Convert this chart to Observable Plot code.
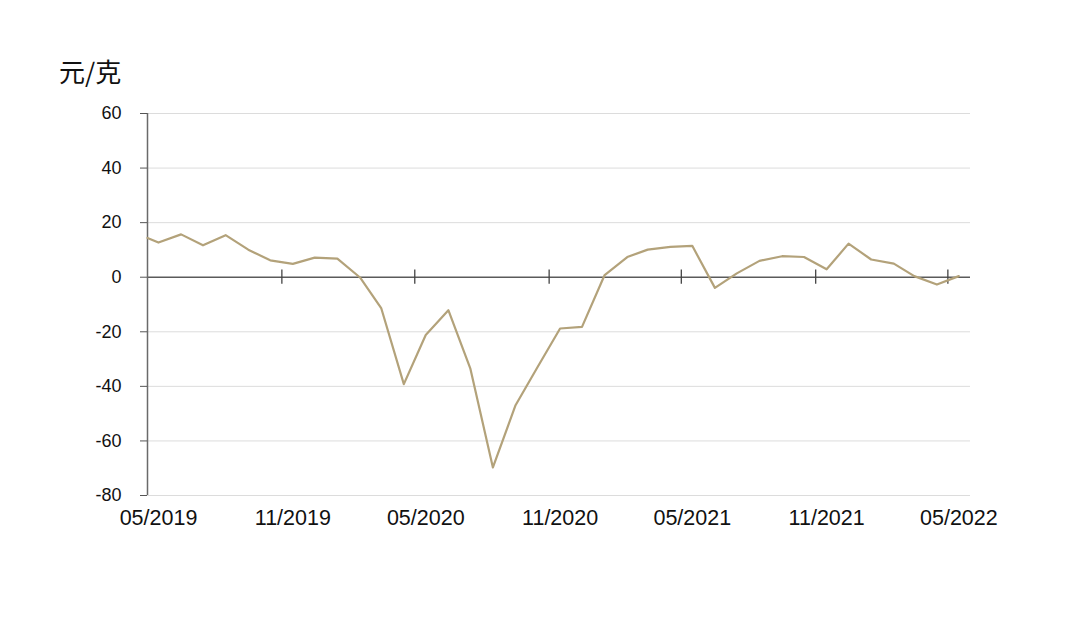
<!DOCTYPE html>
<html>
<head>
<meta charset="utf-8">
<script src="https://cdn.jsdelivr.net/npm/d3@7"></script>
<script src="https://cdn.jsdelivr.net/npm/@observablehq/plot@0.6"></script>
<style>
  html, body { margin: 0; padding: 0; background: #fff; }
  #wrap { position: relative; width: 1080px; height: 618px; }
  #title { position: absolute; left: 59px; top: 52px; font-family: "Noto Sans CJK SC", "Liberation Sans", sans-serif; font-size: 26px; color: #111; }
</style>
</head>
<body>
<div id="wrap">
  <div id="title">元/克</div>
  <div id="chart"></div>
</div>
<script>
// Data (monthly)
const dates = [
  "2019-05-01","2019-05-16","2019-06-16","2019-07-16","2019-08-16","2019-09-16","2019-10-16",
  "2019-11-16","2019-12-16","2020-01-16","2020-02-16","2020-03-16","2020-04-16","2020-05-16",
  "2020-06-16","2020-07-16","2020-08-16","2020-09-16","2020-10-16","2020-11-16","2020-12-16",
  "2021-01-16","2021-02-16","2021-03-16","2021-04-16","2021-05-16","2021-06-16","2021-07-16",
  "2021-08-16","2021-09-16","2021-10-16","2021-11-16","2021-12-16","2022-01-16","2022-02-16",
  "2022-03-16","2022-04-16","2022-05-16"
];
const values = [
  14.4, 12.7, 15.7, 11.7, 15.4, 10.1, 6.2,
  4.9, 7.2, 6.8, -0.1, -11.3, -39.2, -21.2,
  -12.1, -33.4, -69.7, -46.9, -33.0, -18.8, -18.2,
  0.8, 7.4, 10.1, 11.1, 11.5, -3.9, 1.4,
  6.0, 7.7, 7.4, 2.9, 12.3, 6.5, 5.0,
  0.4, -2.7, 0.4
];
const xTicks = ["2019-05-01","2019-11-01","2020-05-01","2020-11-01","2021-05-01","2021-11-01","2022-05-01"];
const yTicks = [60, 40, 20, 0, -20, -40, -60, -80];
const xDomain = ["2019-05-01", "2022-06-01"];
const yDomain = [-80, 60];

const parse = d3.utcParse("%Y-%m-%d");
const data = dates.map((d, i) => ({date: parse(d), value: values[i]}));
const tickDates = xTicks.map(parse);
const xd = xDomain.map(parse);
const gridTicks = yTicks.filter(v => v !== 0);

const chart = Plot.plot({
  width: 1080,
  height: 618,
  marginLeft: 147,
  marginRight: 110,
  marginTop: 113,
  marginBottom: 123,
  style: {fontFamily: "'Liberation Sans', Arial, sans-serif", color: "#111", background: "transparent"},
  x: {type: "utc", domain: xd},
  y: {domain: yDomain},
  marks: [
    Plot.ruleY(gridTicks, {stroke: "#dcdcdc", strokeWidth: 1}),
    Plot.ruleY([0], {stroke: "#5a5a5a", strokeWidth: 1.5}),
    Plot.ruleX(tickDates.slice(1), {y1: -2.6, y2: 2.6, stroke: "#444", strokeWidth: 1.3}),
    Plot.ruleX([xd[0]], {y1: yDomain[0], y2: yDomain[1], stroke: "#6a6a6a", strokeWidth: 1.5}),
    Plot.axisY({ticks: yTicks, tickFormat: d => String(d), tickSize: 7, tickPadding: 19, fontSize: 18, label: null, stroke: "#555"}),
    Plot.axisX({ticks: tickDates, tickFormat: d3.utcFormat("%m/%Y"), tickSize: 0, tickPadding: 14, fontSize: 21.5, dx: 11, label: null}),
    Plot.line(data, {x: "date", y: "value", stroke: "#b3a27a", strokeWidth: 2.2})
  ]
});
document.getElementById("chart").appendChild(chart);
</script>
</body>
</html>
